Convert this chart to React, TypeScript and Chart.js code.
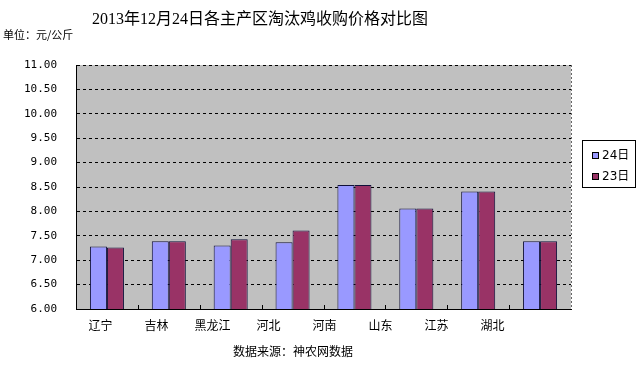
import React, { useEffect, useRef } from "react";
import { Chart, registerables } from "chart.js";

Chart.register(...registerables);

const categories = ["辽宁", "吉林", "黑龙江", "河北", "河南", "山东", "江苏", "湖北"];
const series24 = [7.28, 7.39, 7.3, 7.37, 8.54, 8.06, 8.41, 7.39];
const series23 = [7.26, 7.39, 7.43, 7.61, 8.54, 8.06, 8.41, 7.39];
const seriesNames = ["24日", "23日"];
const yTicks = [6, 6.5, 7, 7.5, 8, 8.5, 9, 9.5, 10, 10.5, 11];

const titleText = "2013年12月24日各主产区淘汰鸡收购价格对比图";
const unitText = "单位：元/公斤";
const sourceText = "数据来源：神农网数据";

const COLORS = ["#9999FF", "#993366"];
const CJK = '"Noto Sans CJK SC", sans-serif';
const LABEL_MIN = -0.4375;
const LABEL_MAX = 8.4018;

const decor = {
  id: "decor",
  beforeDraw(chart: any) {
    const { ctx, chartArea: a } = chart;
    ctx.save();
    ctx.fillStyle = "#C0C0C0";
    ctx.fillRect(a.left, a.top, a.right - a.left, a.bottom - a.top);
    ctx.restore();
  },
  afterDraw(chart: any) {
    const { ctx, chartArea: a } = chart;
    const xs = chart.scales.x;
    ctx.save();
    ctx.strokeStyle = "#666";
    ctx.lineWidth = 1;
    ctx.setLineDash([2, 2]);
    ctx.beginPath();
    ctx.moveTo(Math.round(a.right) + 0.5, a.top);
    ctx.lineTo(Math.round(a.right) + 0.5, a.bottom);
    ctx.stroke();
    ctx.setLineDash([]);
    ctx.strokeStyle = "#000";
    for (let i = 1; i < categories.length; i++) {
      const px = Math.round((xs.getPixelForValue(i - 1) + xs.getPixelForValue(i)) / 2) + 0.5;
      ctx.beginPath();
      ctx.moveTo(px, a.bottom);
      ctx.lineTo(px, a.bottom - 4);
      ctx.stroke();
    }
    ctx.fillStyle = "#000";
    ctx.textBaseline = "middle";
    ctx.textAlign = "center";
    ctx.font = '16px "Liberation Serif", ' + CJK;
    ctx.fillText(titleText, 260, 20);
    ctx.textAlign = "left";
    ctx.font = "11px " + CJK;
    ctx.fillText(unitText, 3, 35);
    ctx.textAlign = "center";
    ctx.font = "12px " + CJK;
    ctx.fillText(sourceText, 293, 351);
    ctx.fillStyle = "#fff";
    ctx.fillRect(582, 140, 53, 47);
    ctx.strokeStyle = "#000";
    ctx.strokeRect(582.5, 140.5, 53, 47);
    const rows = [156, 177];
    chart.data.datasets.forEach((ds: any, i: number) => {
      const y = rows[i];
      ctx.fillStyle = ds.backgroundColor;
      ctx.fillRect(592, y - 4, 7, 7);
      ctx.strokeStyle = "#000";
      ctx.strokeRect(592.5, y - 3.5, 6, 6);
      ctx.fillStyle = "#000";
      ctx.textAlign = "left";
      ctx.font = '12px "DejaVu Sans", ' + CJK;
      ctx.fillText(ds.label, 602, y);
    });
    ctx.restore();
  },
};

export default function App() {
  const ref = useRef<HTMLCanvasElement>(null);
  useEffect(() => {
    if (!ref.current) return;
    const chart = new Chart(ref.current, {
      type: "bar",
      data: {
        labels: categories,
        datasets: [
          {
            label: seriesNames[0],
            data: series24,
            backgroundColor: COLORS[0],
            borderColor: "#10103a",
            borderWidth: 1,
            categoryPercentage: 0.55,
            barPercentage: 1,
          },
          {
            label: seriesNames[1],
            data: series23,
            backgroundColor: COLORS[1],
            borderColor: "#10103a",
            borderWidth: 1,
            categoryPercentage: 0.55,
            barPercentage: 1,
          },
        ],
      },
      options: {
        responsive: false,
        animation: false,
        layout: { padding: { left: 0, right: 69, top: 65, bottom: 0 } },
        plugins: { legend: { display: false }, title: { display: false }, tooltip: { enabled: false } },
        scales: {
          x: {
            type: "category",
            position: "bottom",
            ticks: { display: false },
            grid: { display: false },
            border: { display: true, color: "#000", width: 1 },
            afterFit: (s: any) => {
              s.height = 0;
            },
          },
          x2: {
            type: "linear",
            position: "bottom",
            offset: false,
            bounds: "data",
            min: LABEL_MIN,
            max: LABEL_MAX,
            grid: { display: false, drawTicks: false, offset: false },
            border: { display: false },
            afterBuildTicks: (s: any) => {
              s.ticks = categories.map((_, i) => ({ value: i }));
              s.min = LABEL_MIN;
              s.max = LABEL_MAX;
            },
            ticks: {
              autoSkip: false,
              maxRotation: 0,
              padding: 9,
              color: "#000",
              font: { size: 12, family: CJK },
              callback: (v: any) => categories[v as number] ?? "",
            },
            afterFit: (s: any) => {
              s.height = 59;
            },
          },
          y: {
            min: 6,
            max: 11,
            afterBuildTicks: (s: any) => {
              s.ticks = yTicks.map((v) => ({ value: v }));
            },
            ticks: {
              padding: 19,
              color: "#000",
              font: { size: 11, family: '"DejaVu Sans Mono", monospace' },
              callback: (v: any) => Number(v).toFixed(2),
            },
            grid: { color: "#000", lineWidth: 1, drawTicks: false },
            border: { display: true, color: "#000", width: 1, dash: [3, 3] },
            afterFit: (s: any) => {
              s.width = 76;
            },
          },
        },
      },
      plugins: [decor],
    });
    return () => chart.destroy();
  }, []);
  return (
    <div style={{ position: "absolute", left: 0, top: 0, width: 640, height: 368, background: "#fff" }}>
      <canvas ref={ref} width={640} height={368} style={{ display: "block" }} />
    </div>
  );
}
